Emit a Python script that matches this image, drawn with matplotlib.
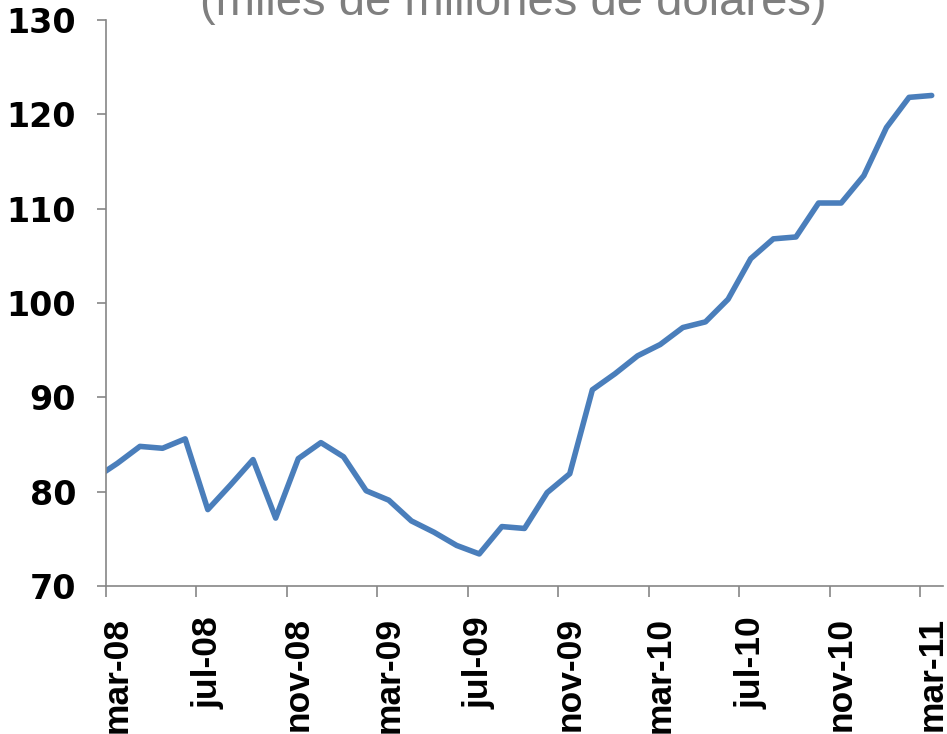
import numpy as np
import matplotlib
matplotlib.use("Agg")
import matplotlib.pyplot as plt

# Monthly series (miles de millones de dólares); first value (feb-08) lies just left of the axis
months = ["feb-08", "mar-08", "abr-08", "may-08", "jun-08", "jul-08", "ago-08", "sep-08", "oct-08",
          "nov-08", "dic-08", "ene-09", "feb-09", "mar-09", "abr-09", "may-09", "jun-09",
          "jul-09", "ago-09", "sep-09", "oct-09", "nov-09", "dic-09", "ene-10", "feb-10",
          "mar-10", "abr-10", "may-10", "jun-10", "jul-10", "ago-10", "sep-10", "oct-10",
          "nov-10", "dic-10", "ene-11", "feb-11", "mar-11"]
values = [81.4, 83.0, 84.8, 84.6, 85.6, 78.1, 80.7, 83.4, 77.2,
          83.5, 85.2, 83.7, 80.1, 79.1, 76.9, 75.7, 74.3,
          73.4, 76.3, 76.1, 79.9, 81.9, 90.8, 92.5, 94.4,
          95.6, 97.4, 98.0, 100.4, 104.7, 106.8, 107.0, 110.6,
          110.6, 113.5, 118.6, 121.8, 122.0]
shown_labels = ["mar-08", "jul-08", "nov-08", "mar-09", "jul-09", "nov-09",
                "mar-10", "jul-10", "nov-10", "mar-11"]
y_ticks = [70, 80, 90, 100, 110, 120, 130]
title = "(miles de millones de dólares)"

W, H = 947, 734
fig = plt.figure(figsize=(W / 100, H / 100), dpi=100)
ax = fig.add_axes([106 / W, 1 - 586 / H, (943 - 106) / W, (586 - 20) / H])

# category k occupies [k-1, k] with first plotted category "mar-08" at [0,1]
x = np.arange(len(values)) - 0.5
ax.plot(x, values, color="#4A7EBB", lw=4.0, solid_joinstyle="round", solid_capstyle="round")

ax.set_xlim(0, len(values) - 1)
ax.set_ylim(70, 130)

spine_col = "#868686"
for s in ["top", "right"]:
    ax.spines[s].set_visible(False)
for s in ["left", "bottom"]:
    ax.spines[s].set_color(spine_col)
    ax.spines[s].set_linewidth(1.2)

# major x ticks at category boundaries (every 4 months), labels centered on categories
idx = [months.index(m) for m in shown_labels]
ax.set_xticks([i - 1 for i in idx])
ax.set_xticklabels([])
ax.set_xticks([x[i] for i in idx], shown_labels, minor=True)
ax.tick_params(axis="x", which="major", direction="out", length=8, width=1.2, color=spine_col)
ax.tick_params(axis="x", which="minor", length=0, pad=22)
for lab in ax.get_xticklabels(minor=True):
    lab.set_rotation(90)
    lab.set_fontfamily("Liberation Sans")
    lab.set_fontweight("bold")
    lab.set_fontsize(25.5)
    lab.set_va("top")
    lab.set_ha("center")

ax.set_yticks(y_ticks)
ax.set_yticklabels([str(v) for v in y_ticks])
ax.tick_params(axis="y", direction="out", length=6.5, width=1.2, color=spine_col, pad=15)
for lab in ax.get_yticklabels():
    lab.set_fontfamily("DejaVu Sans")
    lab.set_fontweight("bold")
    lab.set_fontsize(24)

fig.text(513 / W, 1 - 15 / H, title, ha="center", va="baseline",
         fontsize=34, color="#7f7f7f", family="Liberation Sans")

fig.savefig("out.png", dpi=100)
